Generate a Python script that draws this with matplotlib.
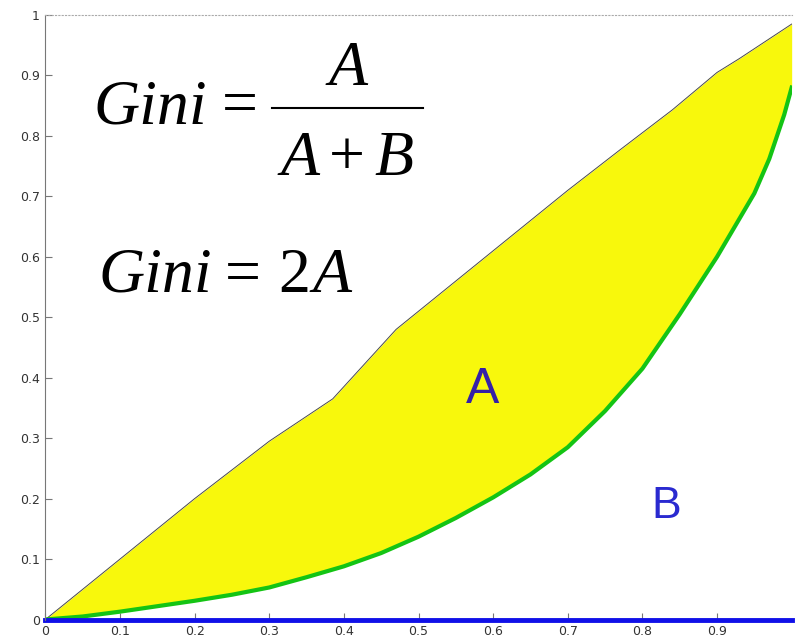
import matplotlib
matplotlib.use("Agg")
import matplotlib.pyplot as plt
import numpy as np

# upper boundary (line of equality as drawn)
equal_x = [0, 0.1, 0.2, 0.3, 0.385, 0.47, 0.6, 0.7, 0.77, 0.84, 0.9, 0.93, 1.0]
equal_y = [0, 0.1, 0.2, 0.295, 0.365, 0.48, 0.61, 0.71, 0.777, 0.843, 0.905, 0.928, 0.985]

# Lorenz curve
lorenz_x = [0, 0.05, 0.1, 0.2, 0.25, 0.3, 0.35, 0.4, 0.45, 0.5, 0.55, 0.6, 0.65,
            0.7, 0.75, 0.8, 0.85, 0.9, 0.95, 0.97, 0.99, 1.0]
lorenz_y = [0, 0.005, 0.013, 0.031, 0.041, 0.053, 0.07, 0.088, 0.11, 0.137, 0.168,
            0.202, 0.24, 0.285, 0.345, 0.415, 0.505, 0.60, 0.705, 0.762, 0.835, 0.88]

x_ticks = [0, 0.1, 0.2, 0.3, 0.4, 0.5, 0.6, 0.7, 0.8, 0.9]
x_labels = ['0', '0.1', '0.2', '0.3', '0.4', '0.5', '0.6', '0.7', '0.8', '0.9']
y_ticks = [0, 0.1, 0.2, 0.3, 0.4, 0.5, 0.6, 0.7, 0.8, 0.9, 1.0]
y_labels = ['0', '0.1', '0.2', '0.3', '0.4', '0.5', '0.6', '0.7', '0.8', '0.9', '1']


def main():
    fig = plt.figure(figsize=(7.95, 6.39), dpi=100)
    ax = fig.add_axes([0.0571, 0.0305, 0.9387, 0.946])

    # fill the area between the two curves on a common grid
    grid = np.union1d(equal_x, lorenz_x)
    upper = np.interp(grid, equal_x, equal_y)
    lower = np.interp(grid, lorenz_x, lorenz_y)
    ax.fill_between(grid, lower, upper, color='#f8f80c', linewidth=0)

    ax.plot(equal_x, equal_y, color='#4a4a4a', linewidth=0.7)
    ax.plot(lorenz_x, lorenz_y, color='#14c414', linewidth=3,
            solid_joinstyle='round')
    ax.plot([0, 1], [0, 0], color='#1010e8', linewidth=3.5, clip_on=False)

    ax.set_xlim(0, 1)
    ax.set_ylim(0, 1)
    ax.set_xticks(x_ticks)
    ax.set_xticklabels(x_labels)
    ax.set_yticks(y_ticks)
    ax.set_yticklabels(y_labels)
    ax.tick_params(direction='in', length=5, width=0.8, colors='#777777',
                   labelcolor='#333333', labelsize=9, pad=4)

    ax.spines['right'].set_visible(False)
    ax.spines['bottom'].set_visible(False)
    ax.spines['top'].set_linestyle((0, (1, 2)))
    ax.spines['top'].set_color('#aaaaaa')
    ax.spines['left'].set_color('#777777')

    # formulas, set piece by piece in Times-like serif
    fs = 46
    it = dict(fontsize=fs, family='Liberation Serif', style='italic',
              va='baseline', color='black', transform=ax.transAxes)
    rm = dict(fontsize=fs, family='Liberation Serif', style='normal',
              va='baseline', color='black', transform=ax.transAxes)

    # Gini = A / (A + B)
    ax.text(0.0638, 0.821, 'Gini', ha='left', **it)
    ax.text(0.236, 0.821, '=', ha='left', **rm)
    ax.text(0.4055, 0.884, 'A', ha='center', **it)
    ax.text(0.3144, 0.735, 'A', ha='left', **it)
    ax.text(0.404, 0.735, '+', ha='center', **rm)
    ax.text(0.4926, 0.735, 'B', ha='right', **it)
    ax.plot([0.3035, 0.506], [0.846, 0.846], color='black', linewidth=1.5,
            transform=ax.transAxes)

    # Gini = 2A
    ax.text(0.0715, 0.5418, 'Gini', ha='left', **it)
    ax.text(0.2407, 0.5418, '=', ha='left', **rm)
    ax.text(0.3117, 0.5418, '2', ha='left', **rm)
    ax.text(0.3585, 0.5418, 'A', ha='left', **it)

    # area labels
    ax.text(0.586, 0.38, 'A', fontsize=36, family='Liberation Sans',
            ha='center', va='center', color='#3520a8')
    ax.text(0.832, 0.187, 'B', fontsize=32, family='Liberation Sans',
            ha='center', va='center', color='#2a2ad0')

    fig.savefig('out.png', dpi=100)


if __name__ == '__main__':
    main()
